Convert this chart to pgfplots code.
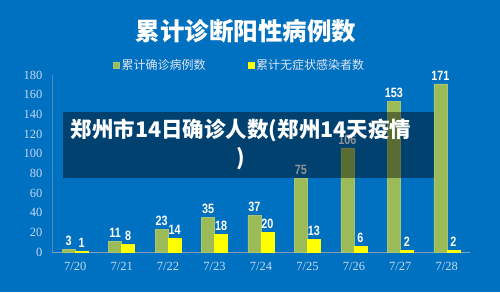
\documentclass[border=0pt]{standalone}
\usepackage{fontspec}
\setmainfont{Noto Sans CJK SC}
\newfontfamily\tickfont{Liberation Serif}
\newfontfamily\labelfont[FakeStretch=0.8]{Liberation Sans Bold}
\usepackage{pgfplots}
\pgfplotsset{compat=1.18}
\definecolor{bgblue}{HTML}{0070C0}
\definecolor{bargreen}{HTML}{9BBB59}
\definecolor{baryellow}{HTML}{FFFF00}
\definecolor{ticktext}{HTML}{C5D9F1}
\definecolor{legtext}{HTML}{DCE6F2}
\definecolor{axline}{HTML}{7F9DB9}
\begin{document}
\begin{tikzpicture}[x=1pt,y=1pt]
\fill[bgblue] (0,0) rectangle (500,292);
\node[font=\bfseries\fontsize{24.5}{27}\selectfont, text=white] at (246,261) {累计诊断阳性病例数};
\begin{axis}[
  at={(52pt,40pt)}, anchor=south west,
  scale only axis, width=418pt, height=177pt,
  ybar=0pt, bar width=13pt,
  xmin=-0.5, xmax=8.5, ymin=0, ymax=180,
  xtick={0,...,8},
  xticklabels={7/20,7/21,7/22,7/23,7/24,7/25,7/26,7/27,7/28},
  ytick={0,20,...,180},
  axis x line*=bottom, axis y line*=left,
  x axis line style={draw=axline, line width=0.8pt, -},
  y axis line style={draw=axline!60!bgblue, line width=0.6pt, -},
  major tick length=0pt,
  ticklabel style={font=\tickfont\fontsize{12.5}{14}\selectfont, text=ticktext},
  /pgf/number format/assume math mode=true,
  xticklabel style={yshift=-7pt},
  yticklabel style={xshift=-6pt},
  nodes near coords,
  every node near coord/.append style={font=\labelfont\fontsize{13.5}{15}\selectfont, text=white},
  legend columns=2,
  legend style={at={(0.146,1.056)}, anchor=west, draw=none, fill=none,
    font=\fontsize{12}{14}\selectfont, text=legtext, inner sep=0pt,
    /tikz/every even column/.append style={column sep=40pt}},
  legend image code/.code={\fill[#1] (0pt,-3pt) rectangle (6pt,3pt);},
]
\addplot[fill=bargreen, draw=bargreen!85!white] coordinates {(0,3) (1,11) (2,23) (3,35) (4,37) (5,75) (6,106) (7,153) (8,171)};
\addplot[fill=baryellow, draw=baryellow] coordinates {(0,1) (1,8) (2,14) (3,18) (4,20) (5,13) (6,6) (7,2) (8,2)};
\legend{累计确诊病例数, 累计无症状感染者数}
\end{axis}
\fill[black, opacity=0.42] (63,114) rectangle (434,179.5);
\node[font=\bfseries\fontsize{21.5}{28}\selectfont, text=white, align=center] at (241,148) {郑州市14日确诊人数(郑州14天疫情\\)};
\end{tikzpicture}
\end{document}
